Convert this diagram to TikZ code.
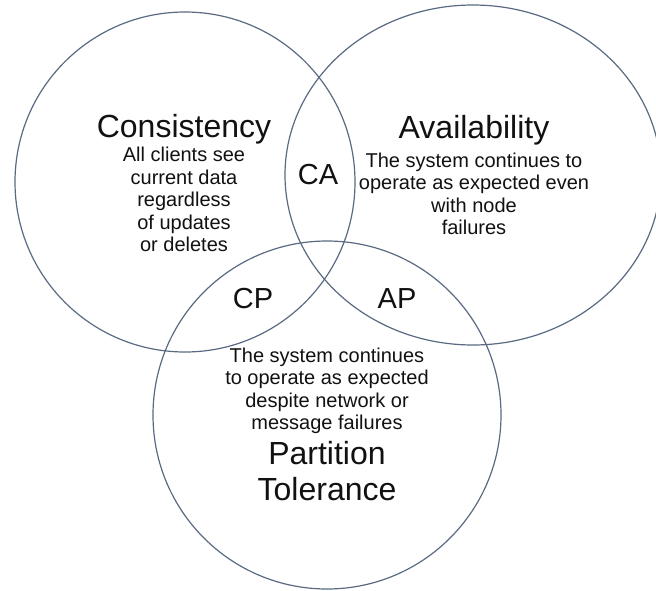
\documentclass[tikz,border=0pt]{standalone}
\usepackage{fontspec}
\setmainfont{Liberation Sans}
\usetikzlibrary{shapes.geometric}
\definecolor{ringcol}{HTML}{5A6A82}
\definecolor{txt}{HTML}{111111}
\begin{document}
\begin{tikzpicture}[x=1pt,y=-1pt,
  ring/.style={draw=ringcol, line width=1.2pt, inner sep=0pt},
  big/.style={font=\fontsize{32}{36}\selectfont, align=center, text=txt, inner sep=0pt},
  small/.style={font=\fontsize{20}{22.4}\selectfont, align=center, text=txt, inner sep=0pt},
  pair/.style={font=\fontsize{29}{30}\selectfont, text=txt, inner sep=0pt}]
\useasboundingbox (0,0) rectangle (656,590);
\clip (0,0) rectangle (656,590);
\fill[white] (0,0) rectangle (656,590);
% circles
\node[ring, circle, minimum size=340pt] (C) at (185,182) {};
\node[ring, ellipse, minimum width=376pt, minimum height=340pt] (A) at (473,175) {};
\node[ring, circle, minimum size=348pt] (P) at (327,415) {};
% titles
\node[big] (ct) at (184,129) {Consistency};
\node[big] (at) at (474,130.5) {Availability};
\node[big] (pt) at (327,471) {Partition\\Tolerance};
% descriptions
\node[small] (cd) at (184,199.5) {All clients see\\current data\\regardless\\of updates\\or deletes};
\node[small] (ad) at (474,194) {The system continues to\\operate as expected even\\with node\\failures};
\node[small] (pd) at (327,391) {The system continues\\to operate as expected\\despite network or\\message failures};
% intersections
\node[pair] (ca) at (318,175) {CA};
\node[pair] (cp) at (253,299) {CP};
\node[pair] (ap) at (397,299) {AP};
\end{tikzpicture}
\end{document}
